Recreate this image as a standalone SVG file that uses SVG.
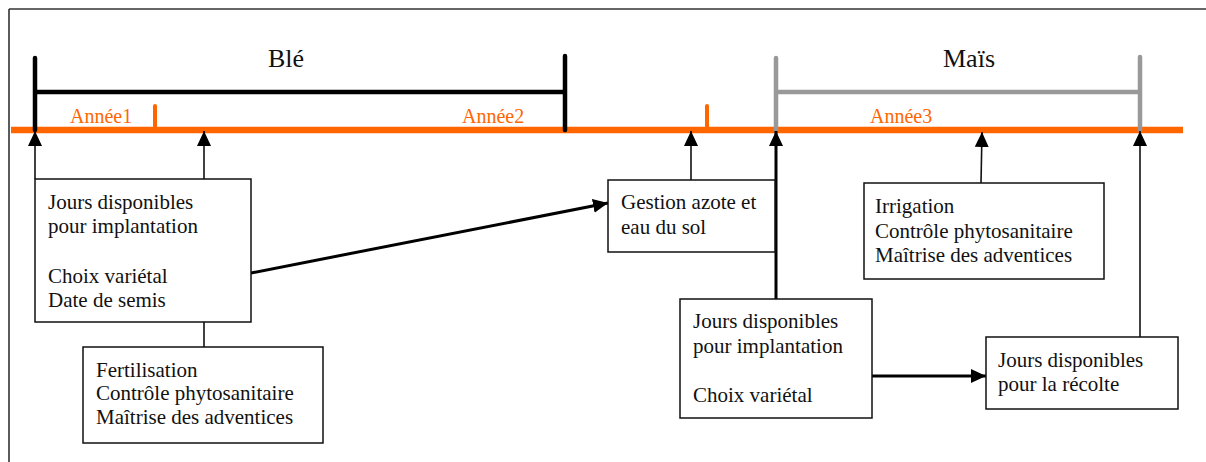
<svg xmlns="http://www.w3.org/2000/svg" width="1206" height="462" viewBox="0 0 1206 462">
<style>
.box{fill:#fff;stroke:#111;stroke-width:1.5}
.t{font-family:"Liberation Serif","Times New Roman",serif;font-size:21px;fill:#111}
.big{font-family:"Liberation Serif","Times New Roman",serif;font-size:26px;fill:#111}
.yr{font-family:"Liberation Serif","Times New Roman",serif;font-size:20px;fill:#FF6600}
.c{stroke:#111;stroke-width:1.6;fill:none}
.ct{stroke:#000;stroke-width:3;fill:none}
.blk{stroke:#000;stroke-width:4.5;stroke-linecap:round;fill:none}
.gry{stroke:#999;stroke-width:4.5;stroke-linecap:round;fill:none}
.org{stroke:#FF6600;fill:none}
</style>
<defs>
<marker id="ah" markerUnits="userSpaceOnUse" markerWidth="16" markerHeight="14" refX="15" refY="7" orient="auto">
<path d="M0,0 L15,7 L0,14 z" fill="#000"/>
</marker>
</defs>
<g id="frame">
<line x1="9" y1="9" x2="1206" y2="9" stroke="#333" stroke-width="1.6"/>
<line x1="9" y1="9" x2="9" y2="462" stroke="#333" stroke-width="1.6"/>
</g>
<g id="timeline">
<line class="org" x1="11" y1="130" x2="1183" y2="130" stroke-width="6.5"/>
<line class="org" x1="155" y1="106" x2="155" y2="128" stroke-width="4" stroke-linecap="round"/>
<line class="org" x1="707" y1="106" x2="707" y2="128" stroke-width="4" stroke-linecap="round"/>
<text class="yr" x="70" y="123">Année1</text>
<text class="yr" x="462" y="123">Année2</text>
<text class="yr" x="870" y="123">Année3</text>
</g>
<g id="ble">
<path class="blk" d="M35,58 L35,130 M35,92 L565,92 M565,56 L565,130"/>
<text class="big" x="286" y="67" text-anchor="middle">Blé</text>
</g>
<g id="mais">
<path class="gry" d="M776,58 L776,130 M776,92 L1140,92 M1140,57 L1140,130"/>
<text class="big" x="969" y="67" text-anchor="middle">Maïs</text>
</g>
<g id="connectors">
<line class="c" x1="35" y1="179" x2="35" y2="131" marker-end="url(#ah)"/>
<line class="c" x1="204" y1="179" x2="204" y2="131" marker-end="url(#ah)"/>
<line class="c" x1="204" y1="322" x2="204" y2="347"/>
<line class="ct" x1="251" y1="273" x2="608" y2="203" marker-end="url(#ah)"/>
<line class="c" x1="691" y1="180" x2="691" y2="131" marker-end="url(#ah)"/>
<line class="ct" x1="776" y1="299" x2="776" y2="131" marker-end="url(#ah)"/>
<line class="c" x1="981" y1="183" x2="982" y2="132" marker-end="url(#ah)"/>
<line class="c" x1="1140" y1="337" x2="1140" y2="131" marker-end="url(#ah)"/>
<line class="ct" x1="872" y1="376" x2="986" y2="376" marker-end="url(#ah)"/>
</g>
<g id="box-ble-implantation">
<rect class="box" x="35" y="179" width="216" height="143"/>
<text class="t" x="48" y="209">Jours disponibles</text>
<text class="t" x="48" y="233">pour implantation</text>
<text class="t" x="48" y="283">Choix variétal</text>
<text class="t" x="48" y="307">Date de semis</text>
</g>
<g id="box-ble-conduite">
<rect class="box" x="83" y="347" width="240" height="96"/>
<text class="t" x="96" y="377">Fertilisation</text>
<text class="t" x="96" y="400">Contrôle phytosanitaire</text>
<text class="t" x="96" y="424">Maîtrise des adventices</text>
</g>
<g id="box-gestion">
<rect class="box" x="608" y="180" width="167" height="72"/>
<text class="t" x="621" y="209">Gestion azote et</text>
<text class="t" x="621" y="234">eau du sol</text>
</g>
<g id="box-irrigation">
<rect class="box" x="864" y="183" width="240" height="96"/>
<text class="t" x="875" y="213">Irrigation</text>
<text class="t" x="875" y="238">Contrôle phytosanitaire</text>
<text class="t" x="875" y="262">Maîtrise des adventices</text>
</g>
<g id="box-mais-implantation">
<rect class="box" x="680" y="299" width="192" height="119"/>
<text class="t" x="693" y="328">Jours disponibles</text>
<text class="t" x="693" y="353">pour implantation</text>
<text class="t" x="693" y="402">Choix variétal</text>
</g>
<g id="box-recolte">
<rect class="box" x="986" y="337" width="192" height="72"/>
<text class="t" x="998" y="367">Jours disponibles</text>
<text class="t" x="998" y="391">pour la récolte</text>
</g>
</svg>
